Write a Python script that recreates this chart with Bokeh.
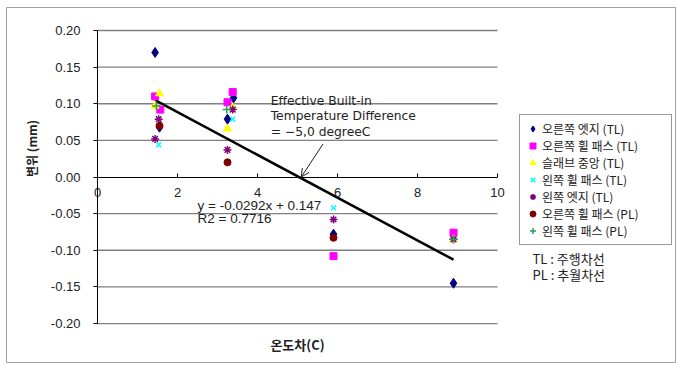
import math
from bokeh.plotting import figure
from bokeh.models import (Range1d, LinearAxis, FixedTicker, NumeralTickFormatter,
                          Legend, LegendItem, Label, Arrow, OpenHead)
from bokeh.embed import file_html
from bokeh.resources import INLINE

# ---- data ----
names = ["오른쪽 엣지 (TL)", "오른쪽 휠 패스 (TL)", "슬래브 중앙 (TL)", "왼쪽 휠 패스 (TL)",
         "왼쪽 엣지 (TL)", "오른쪽 휠 패스 (PL)", "왼쪽 휠 패스 (PL)"]

right_edge_tl_x = [1.44, 1.55, 3.25, 3.40, 5.90, 8.90]
right_edge_tl_y = [0.170, 0.068, 0.079, 0.108, -0.078, -0.145]

right_wheel_tl_x = [1.44, 1.57, 3.25, 3.38, 5.90, 8.90]
right_wheel_tl_y = [0.110, 0.092, 0.102, 0.116, -0.108, -0.076]

slab_center_tl_x = [1.44, 1.55, 3.25, 3.38, 8.90]
slab_center_tl_y = [0.097, 0.114, 0.066, 0.095, -0.085]

left_wheel_tl_x = [1.53, 3.38, 5.90]
left_wheel_tl_y = [0.044, 0.079, -0.042]

left_edge_tl_x = [1.44, 1.53, 3.25, 3.38, 5.90, 8.90]
left_edge_tl_y = [0.052, 0.079, 0.037, 0.092, -0.058, -0.085]

right_wheel_pl_x = [1.55, 3.25, 5.90]
right_wheel_pl_y = [0.070, 0.020, -0.083]

left_wheel_pl_x = [1.47, 3.23, 8.90]
left_wheel_pl_y = [0.097, 0.092, -0.085]

slope = -0.0292
intercept = 0.147

x_ticks = [0, 2, 4, 6, 8, 10]
y_ticks = [-0.20, -0.15, -0.10, -0.05, 0.00, 0.05, 0.10, 0.15, 0.20]
x_lim = (0, 10)
y_lim = (-0.2, 0.2)

series = [
    (right_edge_tl_x, right_edge_tl_y, "diamond", "#000080", 10),
    (right_wheel_tl_x, right_wheel_tl_y, "square", "#FF00FF", 7),
    (slab_center_tl_x, slab_center_tl_y, "triangle", "#FFFF00", 8),
    (left_wheel_tl_x, left_wheel_tl_y, "x", "#00FFFF", 7),
    (left_edge_tl_x, left_edge_tl_y, "asterisk", "#800080", 8),
    (right_wheel_pl_x, right_wheel_pl_y, "circle", "#800000", 7),
    (left_wheel_pl_x, left_wheel_pl_y, "cross", "#2A9D5C", 8),
]

NUM_FONT = "Liberation Sans"
KR_FONT = "Noto Sans CJK KR"
TXT = "#222222"

# The frame covers the whole picture (inside a thin outer border); axes are
# drawn at fixed locations inside it so that nothing outside gets clipped.
p = figure(width=679, height=367,
           x_range=Range1d(-2.275, 14.45), y_range=Range1d(-0.2532, 0.2314),
           output_backend="svg", toolbar_location=None, x_axis_type=None, y_axis_type=None,
           min_border_left=6, min_border_right=4, min_border_top=7, min_border_bottom=5)
p.outline_line_color = "#a0a0a0"
p.outline_line_width = 1
p.grid.visible = False
p.background_fill_color = "white"
p.border_fill_color = "white"

# horizontal grid lines across the plotting area
grid_y = [t for t in y_ticks if t != 0]
p.segment(x0=[x_lim[0]] * len(grid_y), y0=grid_y, x1=[x_lim[1]] * len(grid_y), y1=grid_y,
          line_color="#7f7f7f", line_width=1.3)

# y axis at x = 0
yax = LinearAxis(fixed_location=0, bounds=y_lim, ticker=FixedTicker(ticks=y_ticks),
                 formatter=NumeralTickFormatter(format="0.00"))
yax.major_tick_out = 4
yax.major_tick_in = 0
yax.minor_tick_line_color = None
yax.axis_line_color = "black"
yax.major_tick_line_color = "black"
yax.major_label_text_font = NUM_FONT
yax.major_label_text_font_size = "13px"
yax.major_label_text_color = TXT
yax.major_label_standoff = 13
p.add_layout(yax, "left")

# x axis at y = 0
xax = LinearAxis(fixed_location=0, bounds=x_lim, ticker=FixedTicker(ticks=x_ticks))
xax.major_tick_in = 4
xax.major_tick_out = 0
xax.minor_tick_line_color = None
xax.axis_line_color = "black"
xax.axis_line_width = 1.2
xax.major_label_text_font = NUM_FONT
xax.major_label_text_font_size = "13px"
xax.major_label_text_color = TXT
xax.major_label_standoff = 11
p.add_layout(xax, "below")

# trend line from the regression equation over the data span
all_x = (right_edge_tl_x + right_wheel_tl_x + slab_center_tl_x + left_wheel_tl_x +
         left_edge_tl_x + right_wheel_pl_x + left_wheel_pl_x)
x0, x1 = min(all_x), max(all_x)
p.line([x0, x1], [slope * x0 + intercept, slope * x1 + intercept], line_color="black", line_width=2.5)

items = []
for (xs, ys, marker, color, size), name in zip(series, names):
    if marker in ("x", "asterisk", "cross"):
        r = p.scatter(xs, ys, marker=marker, size=size, line_color=color, line_width=1.5, fill_color=None)
    else:
        r = p.scatter(xs, ys, marker=marker, size=size, fill_color=color, line_color=color)
    items.append(LegendItem(label=name, renderers=[r]))

legend = Legend(items=items, location=(513, 117), orientation="vertical")
legend.label_text_font = KR_FONT
legend.label_text_font_size = "12px"
legend.label_text_color = TXT
legend.label_text_line_height = 1.0
legend.border_line_color = "#333333"
legend.border_line_width = 1
legend.padding = 5
legend.margin = 0
legend.spacing = 0
legend.glyph_width = 15
legend.glyph_height = 17
legend.label_height = 17
legend.label_standoff = 2
legend.label_width = 124
legend.background_fill_color = "white"
legend.background_fill_alpha = 1.0
p.add_layout(legend, "center")

# text annotations (positions in data units)
def lab(x, y, text, font, size, style="normal", align="left", angle=0.0):
    p.add_layout(Label(x=x, y=y, text=text, text_font=font, text_font_size=size,
                       text_font_style=style, text_align=align, text_baseline="middle",
                       text_color=TXT, angle=angle))

lab(4.33, 0.104, "Effective Built-in", "DejaVu Sans", "12.3px")
lab(4.33, 0.083, "Temperature Difference", "DejaVu Sans", "12.3px")
lab(4.33, 0.062, "= −5,0 degreeC", "DejaVu Sans", "12.3px")
lab(2.5, -0.039, "y = -0.0292x + 0.147", NUM_FONT, "13.5px")
lab(2.5, -0.057, "R2 = 0.7716", NUM_FONT, "13.5px")
lab(10.875, -0.1106, "TL : 주행차선", KR_FONT, "13px")
lab(10.875, -0.1331, "PL : 추월차선", KR_FONT, "13px")
lab(5.0, -0.228, "온도차(C)", KR_FONT, "13px", style="bold", align="center")
lab(-1.65, 0.039, "변위 (mm)", KR_FONT, "12px", style="bold", align="center", angle=math.pi / 2)

p.add_layout(Arrow(end=OpenHead(size=8, line_width=1, line_color=TXT),
                   x_start=5.64, y_start=0.0453, x_end=-intercept / slope + 0.06, y_end=0.0,
                   line_color=TXT, line_width=1))

open("out.html", "w").write(file_html(p, INLINE))
